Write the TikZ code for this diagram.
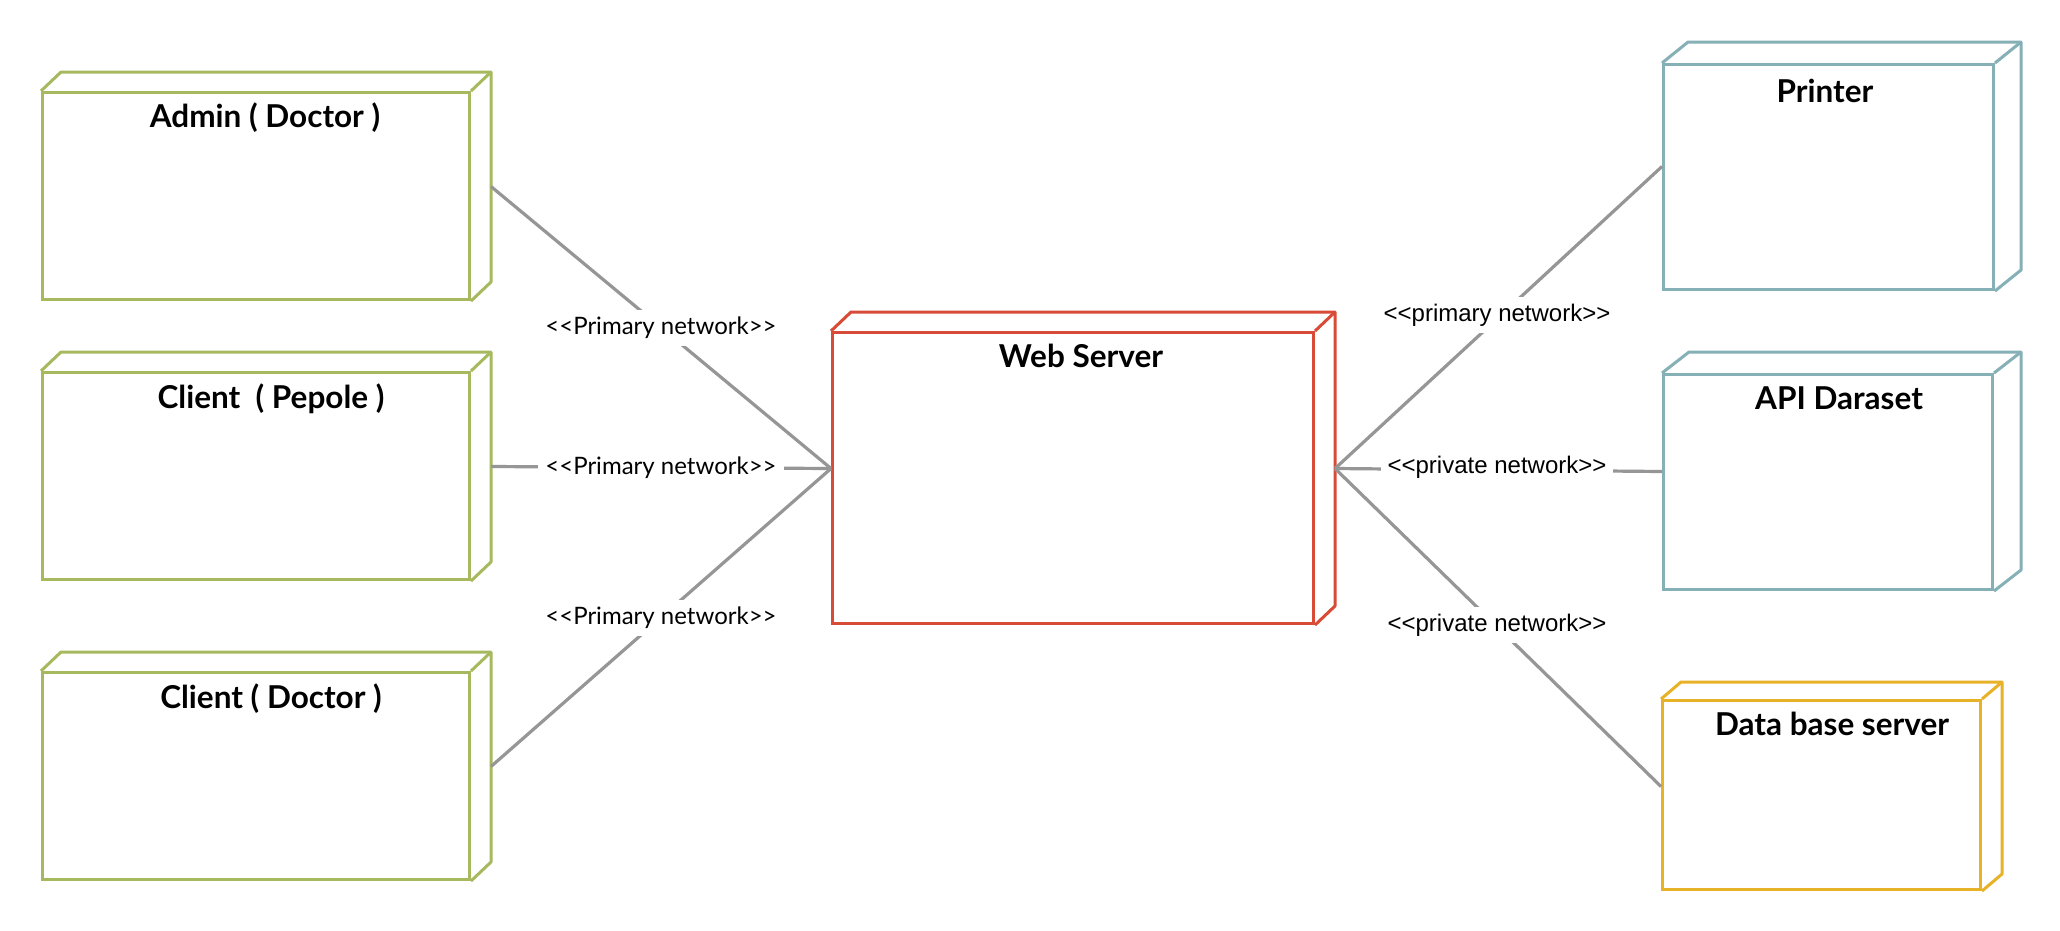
\documentclass[tikz,border=0pt]{standalone}
\usepackage{fontspec}
\setmainfont{Lato}
\newfontfamily\arialf{Liberation Sans}
\usetikzlibrary{calc}
\definecolor{nodegreen}{RGB}{166,185,95}
\definecolor{nodered}{RGB}{215,75,55}
\definecolor{nodeteal}{RGB}{133,176,182}
\definecolor{nodegold}{RGB}{232,178,40}
\definecolor{lineg}{RGB}{150,150,150}
\newcommand\stereo[1]{<\kern0pt<#1>\kern0pt>}
\tikzset{
  boxst/.style={draw, line width=3pt, fill=white, inner sep=0pt, anchor=north west},
  edgest/.style={line width=3.2pt, draw=lineg},
  ttl/.style={font=\bfseries\fontsize{31.5}{38}\selectfont, anchor=base, inner sep=0pt},
  lblL/.style={font=\fontsize{24}{29}\selectfont, fill=white, inner sep=7pt},
  lblR/.style={font=\arialf\fontsize{24}{29}\selectfont, fill=white, inner sep=7pt},
}
% name, colour, x, y, w, h, dx, dy
\newcommand\depbox[8]{%
  \node[boxst, draw=#2, minimum width=#5pt, minimum height=#6pt] (#1) at (#3,#4) {};
  \draw[line width=3pt, #2, line join=round] (#1.north west) -- ++(#7,-#8)
     -- ($(#1.north east)+(#7,-#8)$) -- ($(#1.south east)+(#7,-#8)$) -- (#1.south east);
  \draw[line width=3pt, #2] (#1.north east) -- ++(#7,-#8);
  \coordinate (#1-L) at ($(#1.west)+(0,-#8/2)$);
  \coordinate (#1-R) at ($(#1.east)+(#7,-#8/2)$);
}
\begin{document}
\begin{tikzpicture}[x=1pt,y=-1pt]
\useasboundingbox (0,0) rectangle (2060,930);
\fill[white] (0,0) rectangle (2060,930);

\depbox{admin}{nodegreen}{41}{91}{427}{207}{20}{19}
\depbox{clientp}{nodegreen}{41}{371}{427}{207}{20}{19}
\depbox{clientd}{nodegreen}{41}{671}{427}{207}{20}{19}
\depbox{web}{nodered}{831}{331}{481}{291}{20}{19}
\depbox{printer}{nodeteal}{1662}{63}{330}{225}{26}{21}
\depbox{api}{nodeteal}{1662}{373}{329}{215}{27}{21}
\depbox{db}{nodegold}{1661}{699}{318}{189}{20}{17}

\node[ttl] (admin-t) at (265,127) {Admin ( Doctor )};
\node[ttl] (clientp-t) at (271,408) {Client~ ( Pepole )};
\node[ttl] (clientd-t) at (271,708) {Client ( Doctor )};
\node[ttl] (web-t) at (1081,367) {Web Server};
\node[ttl] (printer-t) at (1825,102) {Printer};
\node[ttl] (api-t) at (1839,409) {API Daraset};
\node[ttl] (db-t) at (1832,735) {Data base server};

\draw[edgest] (admin-R) -- (web-L);
\draw[edgest] (clientp-R) -- (web-L);
\draw[edgest] (clientd-R) -- (web-L);
\draw[edgest] (web-R) -- (printer-L);
\draw[edgest] (web-R) -- (api-L);
\draw[edgest] (web-R) -- (db-L);

\node[lblL] (l1) at (661,328) {\stereo{Primary network}};
\node[lblL] (l2) at (661,468) {\stereo{Primary network}};
\node[lblL] (l3) at (661,618) {\stereo{Primary network}};
\node[lblR] (r1) at (1497,315) {\stereo{primary network}};
\node[lblR] (r2) at (1497,467) {\stereo{private network}};
\node[lblR] (r3) at (1497,625) {\stereo{private network}};
\end{tikzpicture}
\end{document}
